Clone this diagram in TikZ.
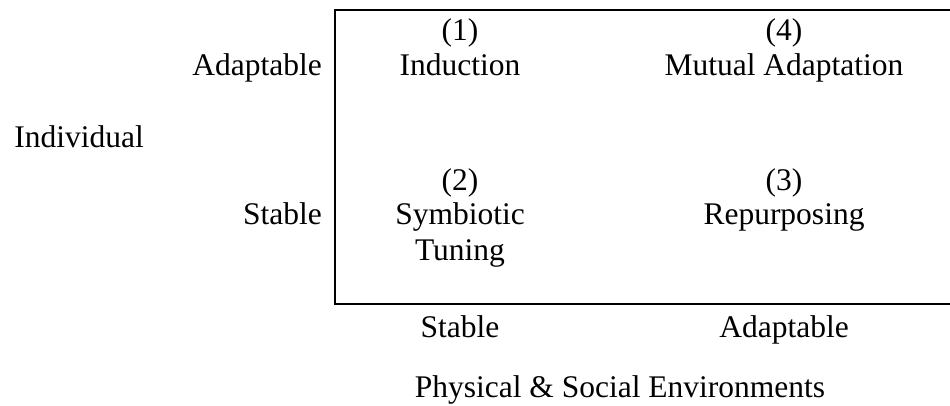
\documentclass[tikz,border=0pt]{standalone}
\usepackage{fontspec}
\setmainfont{Liberation Serif}
\begin{document}
\begin{tikzpicture}[x=1pt,y=-1pt,
  lbl/.style={font=\fontsize{31.5}{35}\selectfont, inner sep=0pt, anchor=base},
  frame/.style={line width=2.2pt}]
\useasboundingbox (0,0) rectangle (950,406);
\coordinate (tl) at (335,10);
\coordinate (bl) at (335,304);
\coordinate (tr) at (950,10);
\coordinate (br) at (950,304);
\draw[frame] (tr) -- (tl) -- (bl) -- (br);
\node[lbl] (ind) at (79,148) {Individual};
\node[lbl, anchor=base east] (ya) at (322,76) {Adaptable};
\node[lbl, anchor=base east] (ys) at (322,225) {Stable};
\node[lbl] (n1) at (460,41) {(1)};
\node[lbl] (t1) at (460,76) {Induction};
\node[lbl] (n4) at (784,41) {(4)};
\node[lbl] (t4) at (784,76) {Mutual Adaptation};
\node[lbl] (n2) at (460,190) {(2)};
\node[lbl] (t2) at (460,225) {Symbiotic};
\node[lbl] (t2b) at (460,260) {Tuning};
\node[lbl] (n3) at (784,190) {(3)};
\node[lbl] (t3) at (784,225) {Repurposing};
\node[lbl] (xs) at (460,337) {Stable};
\node[lbl] (xa) at (784,337) {Adaptable};
\node[lbl] (env) at (620,397) {Physical \& Social Environments};
\end{tikzpicture}
\end{document}
